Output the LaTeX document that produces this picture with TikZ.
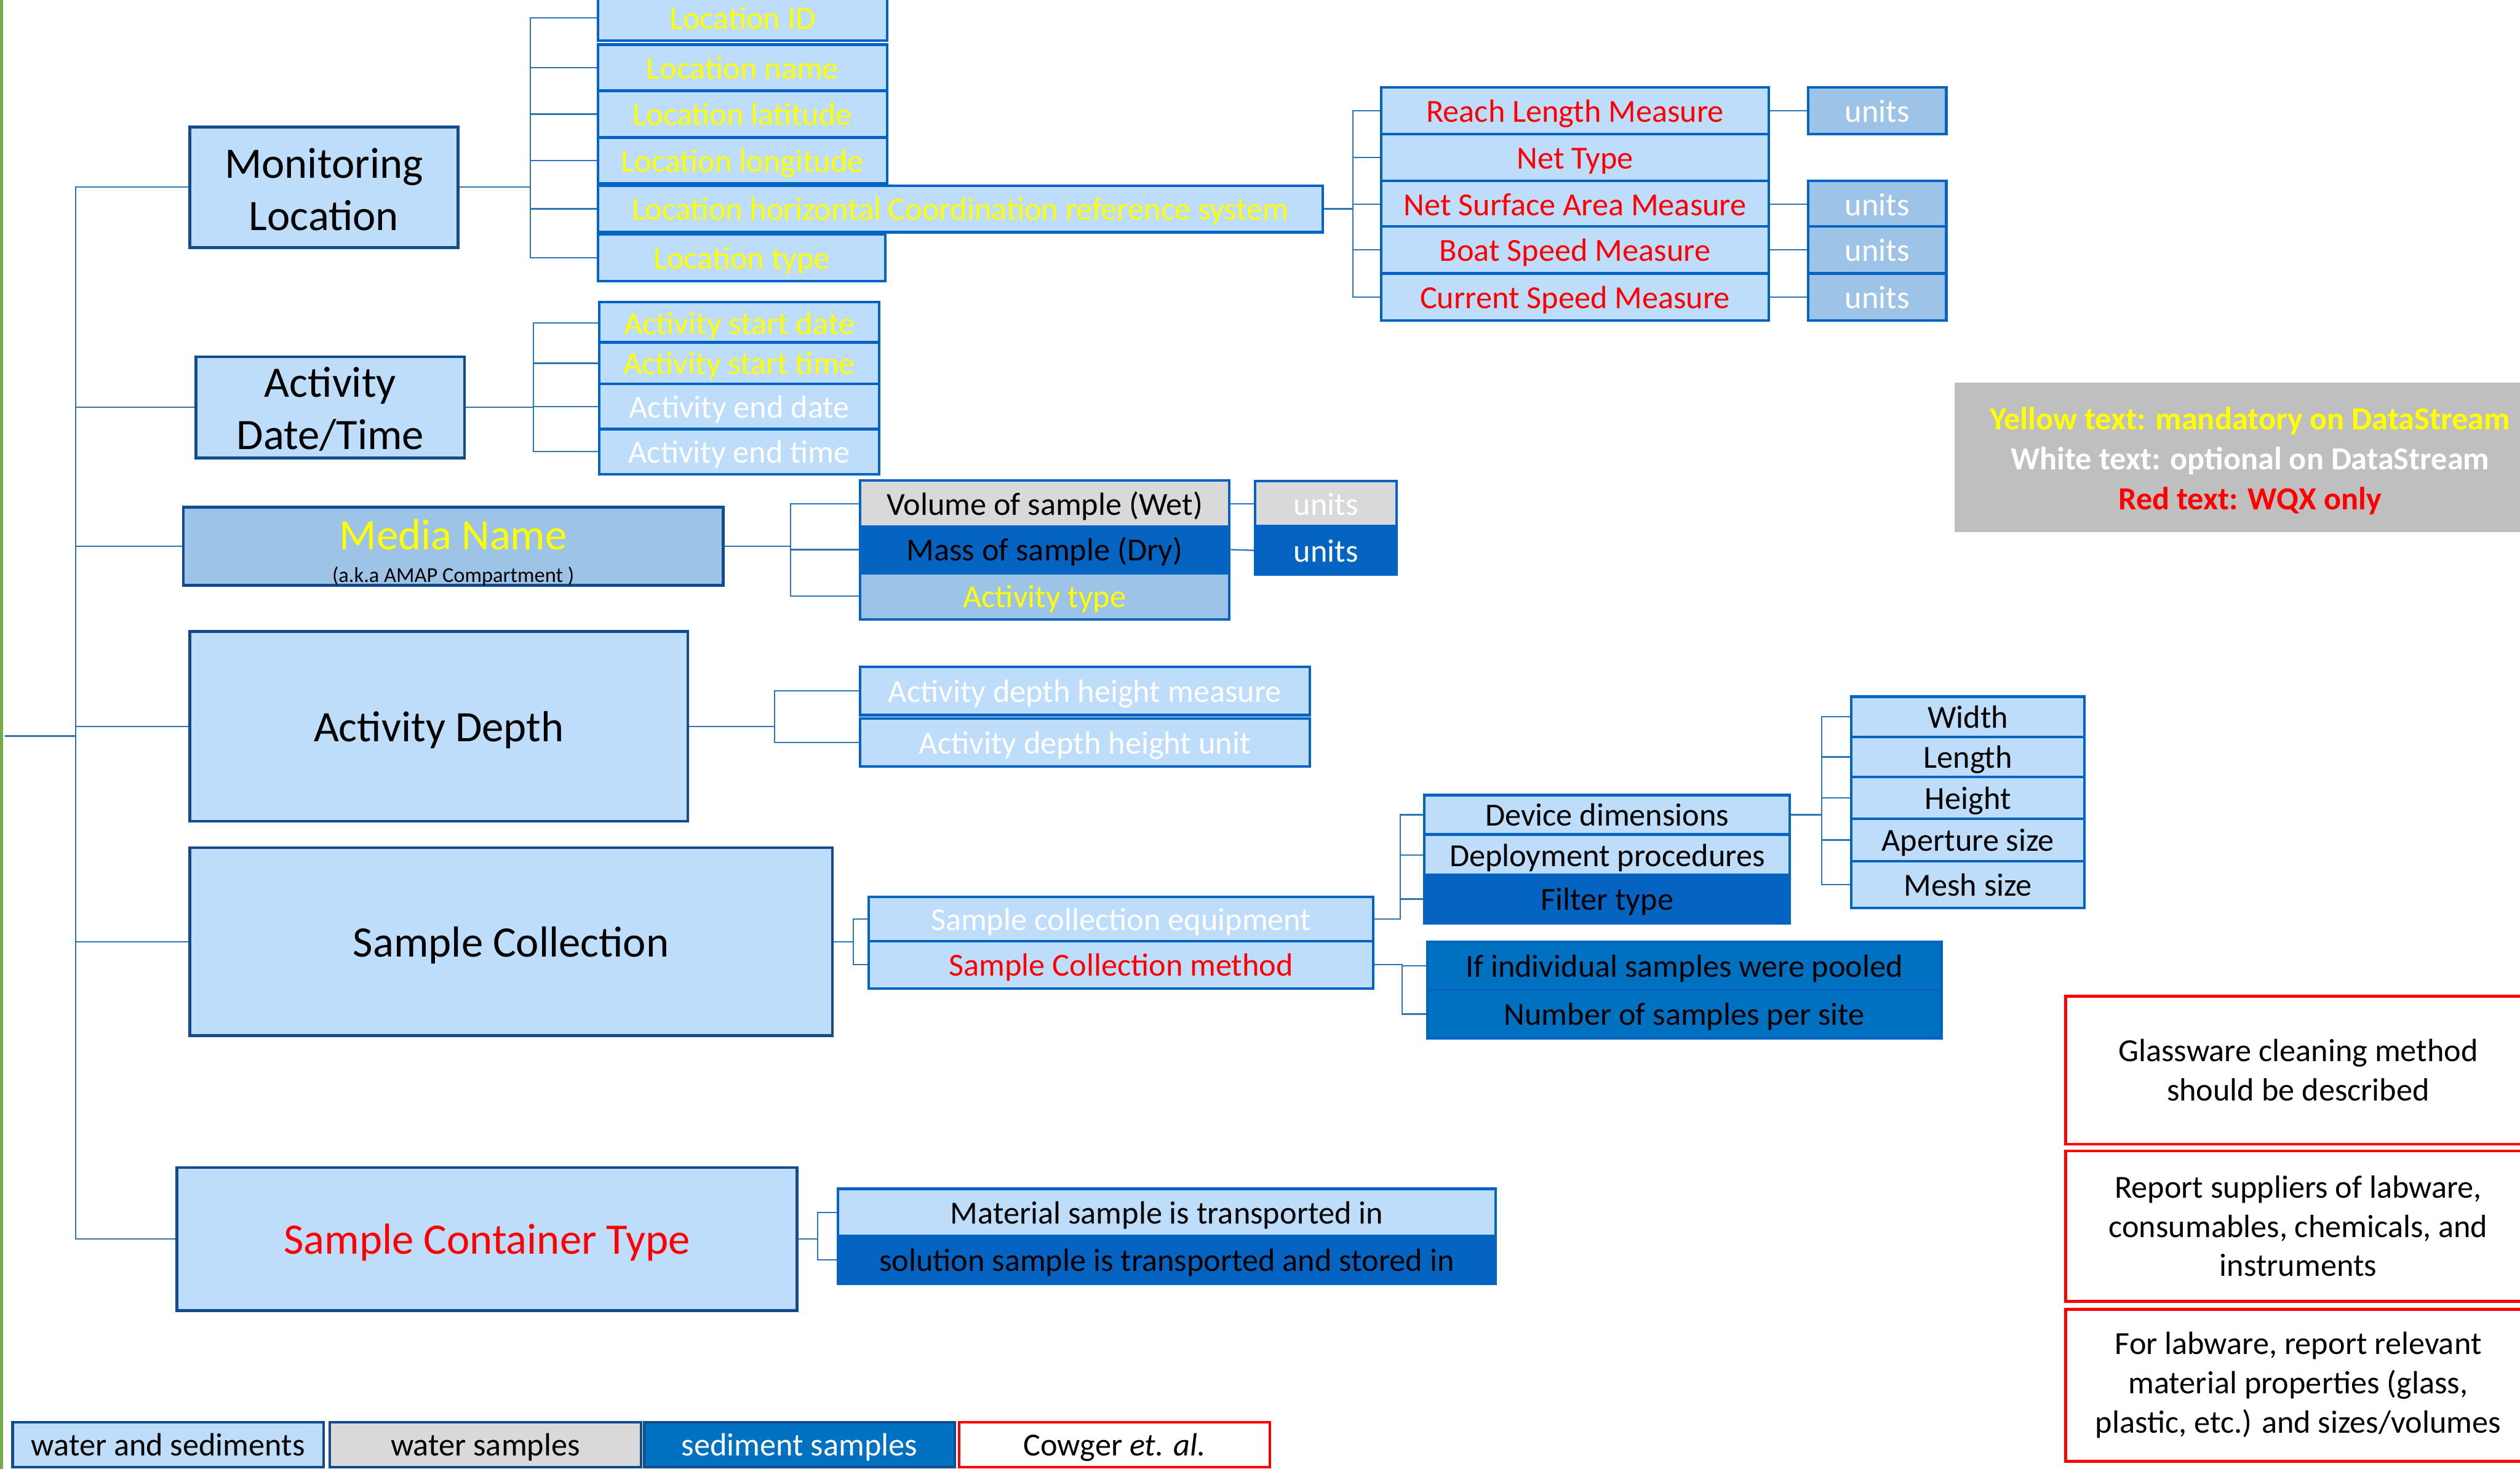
\documentclass[tikz,border=0pt]{standalone}
\usepackage{fontspec}
\setmainfont{Carlito}
\definecolor{paleblue}{RGB}{189,221,251}
\definecolor{midblue}{RGB}{157,195,230}
\definecolor{deepblue}{RGB}{5,99,193}
\definecolor{poolblue}{RGB}{0,112,192}
\definecolor{lightgrey}{RGB}{217,217,217}
\definecolor{keygrey}{RGB}{191,191,191}
\definecolor{navy}{RGB}{20,75,140}
\definecolor{linkblue}{RGB}{46,117,182}
\definecolor{bargreen}{RGB}{112,173,71}
\definecolor{mandatory}{RGB}{255,255,0}

\begin{document}
\begin{tikzpicture}[x = 0.02cm, y = -0.02cm,
main/.style = {draw = navy, fill = paleblue, line width = 1pt, align = center, inner sep = 0pt, font = \fontsize{15.4}{18.5}\selectfont},
mainline/.style = {main, text height = 11.6pt, text depth = 0.8pt},
field/.style = {draw = deepblue, fill = paleblue, line width = 0.9pt, align = center, inner sep = 0pt, text height = 8.6pt, text depth = 0.6pt, font = \fontsize{11.4}{13.9}\selectfont},
unitbox/.style = {field, fill = midblue, text = white, minimum width = 1.72cm, minimum height = 0.58cm},
notebox/.style = {draw = red, fill = white, line width = 1pt, align = center, inner sep = 0pt, minimum width = 5.79cm, font = \fontsize{11.4}{13.9}\selectfont},
legendbox/.style = {draw = navy, line width = 0.9pt, inner sep = 0pt, minimum width = 3.87cm, minimum height = 0.56cm, text height = 8.6pt, text depth = 0.6pt, font = \fontsize{11.4}{13.9}\selectfont},
branch/.style = {draw = linkblue, line width = 0.5pt}]

\useasboundingbox (0, 0) rectangle (1568, 914);
\draw[bargreen, line width = 1.2pt] (1, 0) -- (1, 914);

\node[main, minimum width = 3.34cm, minimum height = 1.5cm] (monitoring) at (201.5, 116.5) {\rule{0pt}{12pt}Monitoring\\Location};
\node[main, minimum width = 3.34cm, minimum height = 1.26cm] (date time) at (205.5, 253.5) {\rule{0pt}{12pt}Activity\\Date/Time};
\node[main, fill = midblue, text = mandatory, minimum width = 6.72cm, minimum height = 0.96cm] (media) at (282, 340) {\rule{0pt}{15pt}Media Name\\[-7pt]{\fontsize{7.5}{9}\selectfont\color{black}(a.k.a AMAP Compartment )}};
\node[mainline, minimum width = 6.2cm, minimum height = 2.36cm] (depth) at (273, 452) {Activity Depth};
\node[mainline, minimum width = 8cm, minimum height = 2.34cm] (collection) at (318, 586) {Sample Collection};
\node[mainline, text = red, minimum width = 7.72cm, minimum height = 1.78cm] (container) at (303, 771) {Sample Container Type};

\node[field, text = mandatory, minimum width = 3.6cm, minimum height = 0.57cm] (location id) at (462, 11) {Location ID};
\node[field, text = mandatory, minimum width = 3.6cm, minimum height = 0.57cm] (location name) at (462, 42) {Location name};
\node[field, text = mandatory, minimum width = 3.6cm, minimum height = 0.57cm] (location latitude) at (462, 71) {Location latitude};
\node[field, text = mandatory, minimum width = 3.6cm, minimum height = 0.57cm] (location longitude) at (462, 100) {Location longitude};
\node[field, text = mandatory, minimum width = 9.02cm, minimum height = 0.58cm] (location crs) at (597.5, 130) {Location horizontal Coordination reference system};
\node[field, text = mandatory, minimum width = 3.58cm, minimum height = 0.58cm] (location type) at (461.5, 160.5) {Location type};

\node[field, text = red, minimum width = 4.83cm, minimum height = 0.58cm] (reach length) at (980, 69) {Reach Length Measure};
\node[field, text = red, minimum width = 4.83cm, minimum height = 0.58cm] (net type) at (980, 98) {Net Type};
\node[field, text = red, minimum width = 4.83cm, minimum height = 0.58cm] (net area) at (980, 127) {Net Surface Area Measure};
\node[field, text = red, minimum width = 4.83cm, minimum height = 0.58cm] (boat speed) at (980, 155.5) {Boat Speed Measure};
\node[field, text = red, minimum width = 4.83cm, minimum height = 0.58cm] (current speed) at (980, 185) {Current Speed Measure};
\node[unitbox] (reach units) at (1168, 69) {units};
\node[unitbox] (area units) at (1168, 127) {units};
\node[unitbox] (boat units) at (1168, 155.5) {units};
\node[unitbox] (current units) at (1168, 185) {units};

\node[field, text = mandatory, minimum width = 3.48cm, minimum height = 0.52cm] (start date) at (460, 201) {Activity start date};
\node[field, text = mandatory, minimum width = 3.48cm, minimum height = 0.52cm] (start time) at (460, 226) {Activity start time};
\node[field, text = white, minimum width = 3.48cm, minimum height = 0.56cm] (end date) at (460, 253) {Activity end date};
\node[field, text = white, minimum width = 3.48cm, minimum height = 0.56cm] (end time) at (460, 281) {Activity end time};

\node[field, fill = lightgrey, minimum width = 4.6cm, minimum height = 0.575cm] (volume) at (650, 313.5) {Volume of sample (Wet)};
\node[field, fill = deepblue, minimum width = 4.6cm, minimum height = 0.575cm] (mass) at (650, 342) {Mass of sample (Dry)};
\node[field, fill = midblue, text = mandatory, minimum width = 4.6cm, minimum height = 0.575cm] (activity type) at (650, 371) {Activity type};
\node[unitbox, fill = lightgrey, minimum width = 1.76cm, minimum height = 0.57cm] (volume units) at (825, 313.5) {units};
\node[unitbox, fill = deepblue, minimum width = 1.76cm, minimum height = 0.6cm] (mass units) at (825, 342.5) {units};

\node[field, text = white, minimum width = 5.6cm, minimum height = 0.6cm] (depth measure) at (675, 430) {Activity depth height measure};
\node[field, text = white, minimum width = 5.6cm, minimum height = 0.6cm] (depth unit) at (675, 462) {Activity depth height unit};

\node[field, text = white, minimum width = 6.28cm, minimum height = 0.56cm] (equipment) at (697.6, 572) {Sample collection equipment};
\node[field, text = red, minimum width = 6.28cm, minimum height = 0.59cm] (method) at (697.6, 600.3) {Sample Collection method};

\node[field, minimum width = 4.55cm, minimum height = 0.49cm] (dimensions) at (1000, 507) {Device dimensions};
\node[field, minimum width = 4.55cm, minimum height = 0.5cm] (deployment) at (1000, 532) {Deployment procedures};
\node[field, fill = deepblue, minimum width = 4.55cm, minimum height = 0.6cm] (filter) at (1000, 559.5) {Filter type};

\node[field, minimum width = 2.9cm, minimum height = 0.5cm] (width) at (1224.5, 446) {Width};
\node[field, minimum width = 2.9cm, minimum height = 0.5cm] (length) at (1224.5, 471) {Length};
\node[field, minimum width = 2.9cm, minimum height = 0.52cm] (height) at (1224.5, 496.5) {Height};
\node[field, minimum width = 2.9cm, minimum height = 0.53cm] (aperture) at (1224.5, 522.7) {Aperture size};
\node[field, minimum width = 2.9cm, minimum height = 0.58cm] (mesh) at (1224.5, 550.5) {Mesh size};

\node[field, fill = poolblue, minimum width = 6.4cm, minimum height = 0.6cm] (pooled) at (1048, 601) {If individual samples were pooled};
\node[field, fill = poolblue, minimum width = 6.4cm, minimum height = 0.6cm] (per site) at (1048, 631) {Number of samples per site};

\node[field, minimum width = 8.18cm, minimum height = 0.59cm] (material) at (726, 754.5) {Material sample is transported in};
\node[field, fill = deepblue, minimum width = 8.18cm, minimum height = 0.6cm] (solution) at (726, 784) {solution sample is transported and stored in};

\node[fill = keygrey, align = center, inner sep = 0pt, minimum width = 7.36cm, minimum height = 1.86cm, font = \bfseries\fontsize{11.4}{14.2}\selectfont] (colour key) at (1400, 284.5) {\rule{0pt}{10.5pt}\color{mandatory}Yellow text: mandatory on DataStream\\\color{white}White text: optional on DataStream\\\color{red}Red text: WQX only};

\node[notebox, minimum height = 1.84cm] (glassware) at (1430, 666) {Glassware cleaning method\\should be described};
\node[notebox, minimum height = 1.87cm] (suppliers) at (1430, 763) {Report suppliers of labware,\\consumables, chemicals, and\\instruments};
\node[notebox, minimum height = 1.89cm] (labware) at (1430, 862) {For labware, report relevant\\material properties (glass,\\plastic, etc.) and sizes/volumes};

\node[legendbox, fill = paleblue] (key both) at (104.6, 899) {water and sediments};
\node[legendbox, fill = lightgrey] (key water) at (302, 899) {water samples};
\node[legendbox, fill = poolblue, text = white] (key sediment) at (497.5, 899) {sediment samples};
\node[legendbox, draw = red, fill = white] (key cowger) at (693.5, 899) {Cowger \textit{et. al.}};

\coordinate (root) at (3, 458);
\coordinate (spine) at (47, 458);
\draw[branch] (root) -- (spine);
\draw[branch] (spine) |- (monitoring.west);
\draw[branch] (spine) |- (date time.west);
\draw[branch] (spine) |- (media.west);
\draw[branch] (spine) |- (depth.west);
\draw[branch] (spine) |- (collection.west);
\draw[branch] (spine) |- (container.west);

\draw[branch] (monitoring.east) -- ++(44, 0) |- (location id.west);
\draw[branch] (monitoring.east) -- ++(44, 0) |- (location name.west);
\draw[branch] (monitoring.east) -- ++(44, 0) |- (location latitude.west);
\draw[branch] (monitoring.east) -- ++(44, 0) |- (location longitude.west);
\draw[branch] (monitoring.east) -- ++(44, 0) |- (location crs.west);
\draw[branch] (monitoring.east) -- ++(44, 0) |- (location type.west);

\draw[branch] (location crs.east) -- ++(18, 0) |- (reach length.west);
\draw[branch] (location crs.east) -- ++(18, 0) |- (net type.west);
\draw[branch] (location crs.east) -- ++(18, 0) |- (net area.west);
\draw[branch] (location crs.east) -- ++(18, 0) |- (boat speed.west);
\draw[branch] (location crs.east) -- ++(18, 0) |- (current speed.west);
\draw[branch] (reach length.east) -- (reach units.west);
\draw[branch] (net area.east) -- (area units.west);
\draw[branch] (boat speed.east) -- (boat units.west);
\draw[branch] (current speed.east) -- (current units.west);

\draw[branch] (date time.east) -- ++(42, 0) |- (start date.west);
\draw[branch] (date time.east) -- ++(42, 0) |- (start time.west);
\draw[branch] (date time.east) -- ++(42, 0) |- (end date.west);
\draw[branch] (date time.east) -- ++(42, 0) |- (end time.west);

\draw[branch] (media.east) -- ++(41, 0) |- (volume.west);
\draw[branch] (media.east) -- ++(41, 0) |- (mass.west);
\draw[branch] (media.east) -- ++(41, 0) |- (activity type.west);
\draw[branch] (volume.east) -- (volume units.west);
\draw[branch] (mass.east) -- (mass units.west);

\draw[branch] (depth.east) -- ++(53, 0) |- (depth measure.west);
\draw[branch] (depth.east) -- ++(53, 0) |- (depth unit.west);

\draw[branch] (collection.east) -- ++(12, 0) |- (equipment.west);
\draw[branch] (collection.east) -- ++(12, 0) |- (method.west);
\draw[branch] (equipment.east) -- ++(16, 0) |- (dimensions.west);
\draw[branch] (equipment.east) -- ++(16, 0) |- (deployment.west);
\draw[branch] (equipment.east) -- ++(16, 0) |- (filter.west);
\draw[branch] (method.east) -- ++(17, 0) |- (pooled.west);
\draw[branch] (method.east) -- ++(17, 0) |- (per site.west);
\draw[branch] (dimensions.east) -- ++(19, 0) |- (width.west);
\draw[branch] (dimensions.east) -- ++(19, 0) |- (length.west);
\draw[branch] (dimensions.east) -- ++(19, 0) |- (height.west);
\draw[branch] (dimensions.east) -- ++(19, 0) |- (aperture.west);
\draw[branch] (dimensions.east) -- ++(19, 0) |- (mesh.west);

\draw[branch] (container.east) -- ++(12, 0) |- (material.west);
\draw[branch] (container.east) -- ++(12, 0) |- (solution.west);

\end{tikzpicture}
\end{document}
